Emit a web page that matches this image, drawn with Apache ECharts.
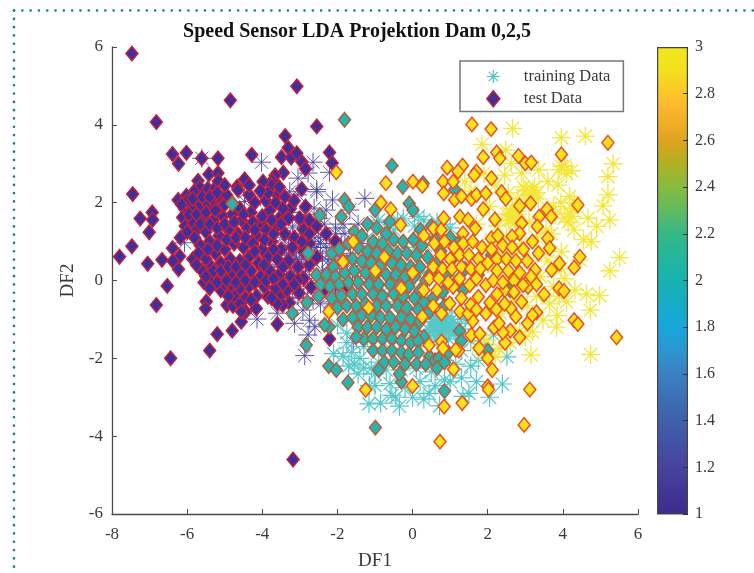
<!DOCTYPE html>
<html><head><meta charset="utf-8">
<style>html,body{margin:0;padding:0;background:#fff}#c{width:754px;height:573px}</style>
<script src="https://cdn.jsdelivr.net/npm/echarts@6/dist/echarts.min.js"></script>
</head><body><div id="c"></div>
<script>
const titleText = "Speed Sensor LDA Projektion Dam 0,2,5";
const xTicks = {min:-8,max:6,interval:2};
const yTicks = {min:-6,max:6,interval:2};
const barValue = 3;
const trainBlue = [[-5.61,3.14],[-4.02,3.04],[-2.65,3.04],[-2.21,2.78],[-2.78,2.76],[-3.05,2.63],[-2.55,2.28],[-4.47,2.26],[-4.05,2.15],[-4.47,2.03],[-2.13,2.07],[-1.27,2.11],[-1.67,1.81],[-2.3,1.81],[-2.62,1.86],[-6.07,0.97],[-3.05,2.2],[-3.27,2.28],[-2.55,2.34],[-1.45,1.45],[-1.8,1.2],[-2.05,1.35],[-2.35,1.45],[-2.6,1.3],[-2.9,1.2],[-3.2,1.35],[-3.45,1.1],[-3.7,0.9],[-3.95,0.6],[-4.1,0.3],[-4.25,0.05],[-3.85,0.2],[-3.6,0.4],[-3.35,0.65],[-3.1,0.85],[-2.85,0.6],[-2.6,0.85],[-2.4,0.55],[-2.15,0.75],[-1.9,0.95],[-1.65,0.7],[-1.95,0.4],[-2.25,0.2],[-2.5,0.05],[-2.75,0.3],[-3.0,0.1],[-3.25,0.3],[-3.5,0.05],[-3.75,-0.15],[-4.0,-0.25],[-3.3,-0.2],[-3.05,-0.35],[-2.8,-0.15],[-2.55,-0.3],[-2.3,-0.1],[-2.05,-0.25],[-1.75,0.15],[-1.5,-0.1],[-1.25,0.25],[-1.1,0.65],[-1.35,0.95],[-3.15,0.55],[-3.4,0.8],[-2.95,0.45],[-2.7,0.7],[-2.45,0.95],[-2.2,1.05],[-3.05,1.55],[-2.85,1.7],[-3.25,1.75],[-4.14,-0.99],[-3.6,-0.84],[-2.92,-0.76],[-2.74,-1.02],[-3.14,-1.1],[-2.6,-1.19],[-2.78,-1.4],[-2.87,-1.93],[-1.58,-1.59],[-0.9,0.9],[-0.95,1.5],[-3.3,0.9],[-3.2,0.7],[-3.1,0.55],[-3.0,0.8],[-2.9,0.95],[-3.15,0.35],[-3.0,0.25],[-2.85,0.15],[-2.65,0.5],[-2.55,0.7],[-2.4,0.25],[-2.25,0.5],[-2.1,0.55],[-1.95,0.65],[-1.75,0.45],[-1.6,0.25],[-1.4,0.45],[-1.15,0.1],[-2.7,1.0],[-2.5,1.1],[-2.3,0.85],[-2.05,1.2],[-1.85,1.45],[-2.5,1.6],[-2.75,1.45],[-3.35,0.15],[-3.5,0.35],[-3.65,0.7],[-3.8,0.5],[-3.55,-0.3],[-3.2,-0.45],[-2.9,-0.45],[-2.65,-0.5],[-2.45,-0.6],[-2.2,-0.55],[-1.95,-0.3],[-4.3,0.65],[-4.05,0.85],[-3.25,1.05],[-3.0,1.4]];
const trainTeal = [[2.51,-1.96],[2.39,-2.66],[2.05,-3.0],[1.34,-2.98],[0.44,-2.9],[-0.35,-3.23],[0.72,-3.22],[0.0,-3.0],[1.5,-2.9],[-0.55,-2.95],[-0.85,-3.15],[-1.16,-3.17],[-1.0,-2.7],[-0.6,-2.65],[-0.2,-2.75],[0.2,-2.6],[0.6,-2.7],[1.0,-2.6],[1.3,-2.5],[1.7,-2.6],[1.55,-2.2],[1.75,-2.05],[1.9,-1.65],[2.15,-1.4],[-2.1,-1.88],[-1.85,-1.95],[-1.62,-1.85],[-1.4,-2.0],[-1.55,-2.15],[-1.75,-1.6],[-1.3,-1.7],[-1.1,-2.25],[-0.9,-2.1],[-1.2,-1.45],[-1.75,-1.35],[-2.0,-1.15],[-0.7,-2.3],[-0.3,-2.3],[0.1,-2.25],[0.5,-2.35],[0.45,-1.3],[0.5,-1.15],[0.55,-1.05],[0.6,-1.3],[0.65,-1.2],[0.7,-1.05],[0.72,-1.3],[0.78,-1.15],[0.8,-1.4],[0.85,-1.05],[0.9,-1.25],[0.95,-1.1],[1.0,-1.3],[1.05,-1.0],[1.1,-1.2],[1.15,-1.35],[0.62,-0.95],[0.75,-0.9],[0.9,-0.92],[1.2,-1.1],[1.3,-1.25],[0.35,-1.4],[0.4,-1.55],[0.65,-1.5],[0.95,-1.5],[1.4,-1.0],[1.5,-0.7],[-0.9,1.55],[-0.75,1.25],[-0.5,1.3],[-0.25,1.6],[0.05,1.4],[0.3,1.55],[0.55,1.2],[0.85,1.45],[0.35,0.9],[-1.2,1.1],[-1.0,0.85],[-0.6,0.9],[-0.3,0.7],[0.05,0.85],[-1.3,0.5],[-0.1,0.3],[0.3,0.2],[0.7,0.3],[1.1,0.1],[-0.8,-0.3],[-0.4,-0.55],[0.05,-0.4],[0.4,-0.6],[0.9,-0.6],[-1.1,-0.9],[-0.7,-1.15],[-0.2,-1.4],[0.15,-1.7],[-0.6,-1.75],[-1.15,-2.7],[1.3,-1.8],[1.55,-1.55],[0.85,-2.05],[1.15,-2.15],[0.55,-1.25],[0.7,-1.15],[0.85,-1.2],[0.75,-1.35],[1.0,-1.15],[0.6,-1.0],[0.9,-1.0],[1.1,-1.3],[-0.4,1.55],[0.15,1.65],[0.65,1.5],[1.0,1.35],[-1.45,-2.4],[-1.0,-2.4],[-0.45,-3.0],[0.3,-3.05],[-1.7,-2.2],[-1.3,-2.25],[0.85,-2.55]];
const trainYellow = [[2.66,3.91],[3.96,3.67],[4.6,3.71],[5.34,3.0],[5.2,2.67],[5.2,2.2],[5.07,1.92],[5.25,1.56],[4.9,1.39],[4.67,1.6],[4.18,2.16],[4.18,1.73],[4.14,1.5],[4.25,1.85],[3.96,2.93],[4.23,2.82],[3.6,2.54],[3.87,2.45],[3.36,2.84],[2.48,3.35],[1.85,3.5],[2.63,3.01],[2.45,2.71],[2.9,2.76],[1.39,2.54],[3.2,2.33],[3.0,2.33],[2.65,1.73],[2.72,1.64],[2.55,1.56],[2.6,1.68],[2.78,1.78],[4.76,1.0],[5.51,0.59],[5.25,0.25],[4.45,0.53],[3.96,0.74],[3.6,0.5],[4.32,-0.24],[4.05,0.05],[4.63,-0.35],[4.98,-0.39],[4.73,-0.76],[3.47,-1.02],[3.83,-1.2],[3.19,-1.32],[3.15,-1.91],[4.74,-1.9],[3.9,-0.4],[3.65,-0.6],[1.97,-1.53],[3.95,0.3],[3.4,0.1],[3.1,0.5],[2.9,0.95],[3.3,1.1],[3.55,1.3],[3.75,1.9],[3.35,2.1],[3.1,2.0],[2.8,2.1],[2.55,2.25],[2.2,2.45],[1.9,2.75],[1.55,2.3],[2.05,1.9],[2.25,1.4],[2.5,1.1],[2.75,0.7],[2.4,0.65],[2.1,1.05],[1.7,1.45],[3.05,-0.65],[2.7,-0.5],[2.35,-0.85],[3.3,-0.4],[2.85,-1.3],[2.3,-1.75],[1.9,-1.9],[2.15,0.35],[2.55,0.1],[3.75,-0.15],[2.6,1.55],[2.7,1.6],[2.75,1.5],[2.5,1.7],[2.8,1.7],[2.65,1.85],[3.05,2.3],[3.15,2.2],[3.25,2.4],[3.3,2.25],[2.95,2.4],[3.8,1.7],[4.05,1.6],[4.25,1.65],[3.95,2.0],[4.3,2.0],[3.9,2.85],[4.05,2.95],[4.1,2.75],[3.1,1.5],[3.7,1.2],[4.3,1.3],[4.55,1.05],[3.55,0.75],[3.85,-0.9],[4.1,-0.55],[3.0,-1.45],[2.6,-1.6],[2.2,-1.95],[1.75,-1.7]];
const testBlue = [[-7.47,5.83],[-6.82,4.07],[-4.85,4.63],[-3.08,4.99],[-2.55,3.96],[-3.39,3.71],[-3.31,3.41],[-6.39,3.25],[-6.02,3.28],[-6.23,3.0],[-5.61,3.14],[-5.18,3.14],[-4.28,3.23],[-3.49,3.17],[-3.23,3.16],[-3.08,3.27],[-2.95,3.05],[-2.85,2.87],[-2.21,3.29],[-2.14,3.02],[-5.42,2.73],[-5.18,2.76],[-3.44,2.77],[-3.66,2.7],[-3.73,2.56],[-4.47,2.6],[-3.98,2.54],[-4.67,2.41],[-4.65,2.33],[-5.71,2.56],[-5.66,2.39],[-5.82,2.28],[-6.02,2.18],[-6.24,2.07],[-6.07,1.84],[-7.45,2.22],[-5.45,2.36],[-5.25,2.38],[-5.17,2.55],[-5.16,2.07],[-5.34,1.97],[-5.52,1.95],[-5.7,1.88],[-5.9,1.88],[-6.12,1.62],[-6.93,1.75],[-6.92,1.56],[-7.25,1.59],[-7.01,1.24],[-7.47,0.88],[-7.8,0.61],[-7.05,0.43],[-6.67,0.53],[-6.39,0.83],[-6.2,0.62],[-6.38,0.5],[-6.23,0.29],[-6.53,-0.14],[-6.82,-0.63],[-5.49,-0.54],[-5.51,-0.72],[-4.94,-0.63],[-4.78,-0.65],[-4.44,-0.8],[-4.16,-0.72],[-4.56,-1.06],[-5.2,-1.38],[-4.8,-1.29],[-5.4,-1.8],[-6.44,-2.0],[-3.6,-1.12],[-2.21,-1.5],[-3.18,-4.6],[-3.85,-0.42],[-3.54,-0.42],[-3.28,-0.58],[-3.46,-0.63],[-3.02,-0.32],[-2.7,-0.17],[-1.76,-0.11],[-6.05,1.4],[-6.18,1.1],[-5.85,1.5],[-5.6,1.6],[-5.75,1.3],[-5.5,1.25],[-5.3,1.55],[-5.05,1.65],[-4.8,1.7],[-4.55,1.55],[-4.3,1.75],[-4.05,1.5],[-3.8,1.8],[-3.5,1.65],[-3.25,1.85],[-3.6,2.2],[-3.9,2.05],[-4.2,2.0],[-3.4,2.15],[-3.15,2.05],[-2.95,2.35],[-2.85,1.9],[-2.75,1.55],[-3.0,1.6],[-2.55,1.4],[-2.3,1.2],[-2.05,1.0],[-5.65,0.9],[-5.4,1.0],[-5.15,1.15],[-4.9,1.3],[-4.65,1.2],[-4.4,1.35],[-4.15,1.15],[-3.9,1.3],[-3.65,1.35],[-3.4,1.2],[-3.15,1.1],[-2.9,1.3],[-5.5,0.55],[-5.25,0.7],[-5.0,0.8],[-4.75,0.95],[-4.5,0.85],[-4.25,0.95],[-4.0,0.8],[-3.75,1.0],[-3.5,0.8],[-3.2,0.85],[-2.75,0.95],[-5.6,0.25],[-5.35,0.35],[-5.1,0.45],[-4.85,0.55],[-4.6,0.5],[-4.35,0.6],[-4.1,0.45],[-3.85,0.6],[-3.6,0.55],[-3.3,0.5],[-3.05,0.35],[-2.55,0.6],[-5.3,0.0],[-5.05,0.1],[-4.8,0.2],[-4.55,0.15],[-4.3,0.25],[-4.05,0.1],[-3.8,0.25],[-3.55,0.15],[-3.25,0.1],[-2.9,0.05],[-5.55,-0.05],[-5.1,-0.25],[-4.85,-0.15],[-4.6,-0.2],[-4.35,-0.15],[-3.95,-0.15],[-3.65,-0.2],[-3.35,-0.25],[-3.05,0.0],[-5.1,1.9],[-4.85,2.05],[-4.6,1.85],[-4.35,2.2],[-3.75,2.45],[-3.55,2.4],[-4.15,-0.4],[-4.45,-0.45],[-4.75,-0.4],[-5.0,-0.1],[-2.75,0.4],[-2.4,-0.3],[-6.0,2.05],[-5.85,2.1],[-5.6,2.15],[-5.4,2.15],[-5.2,2.25],[-6.15,1.95],[-5.95,1.7],[-5.75,1.7],[-5.5,1.75],[-5.25,1.8],[-5.0,1.95],[-6.0,1.25],[-5.8,1.1],[-5.65,1.45],[-5.4,1.45],[-5.2,1.35],[-5.0,1.45],[-4.75,1.5],[-4.5,1.7],[-4.25,1.5],[-4.0,1.65],[-3.75,1.55],[-3.5,1.45],[-3.3,1.6],[-5.85,0.55],[-5.7,0.7],[-5.45,0.8],[-5.2,0.9],[-4.95,1.05],[-4.7,1.1],[-4.45,1.1],[-4.2,1.3],[-3.95,1.05],[-3.7,1.2],[-5.75,0.4],[-5.5,0.1],[-5.3,0.25],[-5.1,0.25],[-4.9,0.35],[-4.7,0.35],[-4.45,0.4],[-4.2,0.75],[-3.95,0.4],[-3.7,0.8],[-3.45,0.35],[-5.4,-0.2],[-5.2,-0.05],[-4.95,0.0],[-4.7,-0.05],[-4.45,0.0],[-4.2,-0.05],[-3.9,0.0],[-3.7,0.05],[-3.45,-0.1],[-3.15,-0.1],[-4.6,-0.6],[-4.3,-0.5],[-3.6,-0.6],[-3.75,-0.45],[-4.9,-0.4],[-4.55,-0.8],[-2.9,0.75],[-2.95,1.0],[-2.75,1.2],[-3.45,1.85],[-3.65,2.0],[-3.85,2.25],[-4.05,2.3],[-4.35,2.45],[-4.95,2.2],[-5.0,2.45]];
const testTeal = [[-1.81,4.13],[-0.55,2.95],[-0.26,2.41],[0.28,2.5],[-0.09,1.98],[0.01,1.81],[1.12,2.34],[0.21,1.3],[-0.61,1.51],[-4.8,1.97],[-1.81,2.07],[-1.9,1.64],[-2.47,1.68],[-1.0,1.81],[-2.78,0.7],[-2.56,0.14],[-3.2,-0.84],[-2.81,-0.57],[-2.22,-1.19],[-2.34,-1.14],[-2.83,-1.66],[-2.23,-2.2],[-2.03,-2.3],[-1.72,-2.62],[-0.99,-3.78],[-0.3,-2.6],[0.85,-2.84],[2.0,-1.8],[2.6,-0.25],[-1.7,1.9],[-1.2,1.45],[-0.95,1.35],[-0.7,1.2],[-1.55,1.25],[-1.35,1.15],[-1.05,1.0],[-0.8,0.95],[-0.5,1.05],[-0.25,1.0],[0.02,1.05],[0.25,0.9],[-2.15,0.7],[-1.95,0.8],[-1.7,0.95],[-1.45,0.85],[-1.2,0.75],[-0.95,0.7],[-0.65,0.75],[-0.4,0.7],[-0.15,0.7],[0.1,0.65],[0.4,0.6],[-2.1,0.35],[-1.85,0.5],[-1.6,0.55],[-1.35,0.5],[-1.1,0.45],[-0.85,0.4],[-0.55,0.45],[-0.3,0.4],[-0.05,0.35],[0.2,0.35],[0.5,0.2],[-2.3,0.15],[-2.05,0.1],[-1.8,0.2],[-1.55,0.25],[-1.25,0.2],[-1.0,0.15],[-0.7,0.15],[-0.45,0.15],[-0.2,0.1],[0.05,0.1],[0.35,0.0],[-2.45,-0.1],[-2.2,-0.15],[-1.95,-0.1],[-1.7,-0.05],[-1.45,-0.05],[-1.15,-0.1],[-0.9,-0.1],[-0.6,-0.1],[-0.35,-0.15],[-0.1,-0.15],[0.2,-0.25],[-2.5,-0.4],[-2.15,-0.45],[-1.9,-0.4],[-1.6,-0.35],[-1.35,-0.35],[-1.05,-0.35],[-0.8,-0.4],[-0.5,-0.35],[-0.25,-0.4],[0.05,-0.45],[0.3,-0.55],[-2.0,-0.7],[-1.75,-0.65],[-1.5,-0.65],[-1.25,-0.6],[-0.95,-0.65],[-0.7,-0.65],[-0.4,-0.65],[-0.15,-0.7],[0.15,-0.75],[0.45,-0.8],[-1.85,-1.0],[-1.6,-0.95],[-1.35,-0.9],[-1.1,-0.9],[-0.85,-0.95],[-0.6,-0.95],[-0.3,-0.95],[-0.05,-1.0],[0.2,-1.05],[-1.45,-1.2],[-1.2,-1.2],[-0.95,-1.2],[-0.7,-1.25],[-0.45,-1.2],[-0.2,-1.25],[0.05,-1.3],[0.3,-1.45],[-1.3,-1.5],[-1.05,-1.5],[-0.8,-1.5],[-0.55,-1.5],[-0.3,-1.55],[-0.05,-1.6],[0.15,-1.55],[-1.05,-1.8],[-0.8,-1.8],[-0.55,-1.8],[-0.3,-1.85],[-0.1,-1.9],[0.15,-1.85],[0.45,-1.95],[-0.75,-2.1],[-0.5,-2.1],[-0.2,-2.15],[0.1,-2.15],[0.35,-2.15],[0.6,-2.05],[-0.9,-2.3],[-0.35,-2.4],[0.7,-2.0],[0.65,-2.25],[0.85,-2.1],[0.95,-1.85],[1.25,-1.3],[1.3,-1.55],[0.55,-0.45],[0.8,-0.3],[0.65,0.45],[0.9,0.15],[1.0,1.1],[1.4,0.3],[1.35,-0.25],[0.6,1.05],[-1.5,-1.45],[0.5,1.4],[0.75,0.75],[1.1,0.6],[0.85,-0.65],[1.2,0.95],[1.75,0.15],[2.1,0.65]];
const testYellow = [[1.58,4.01],[2.09,3.89],[5.2,3.54],[3.96,3.24],[1.88,3.17],[2.24,3.29],[2.32,3.14],[2.82,3.2],[3.0,3.01],[3.16,3.03],[0.92,2.9],[1.33,2.95],[1.21,2.8],[1.7,2.8],[1.64,2.71],[-0.71,2.5],[0.01,2.54],[0.26,2.43],[0.81,2.54],[1.08,2.54],[0.83,2.24],[1.12,2.07],[1.3,2.16],[1.57,2.1],[1.7,2.2],[1.95,2.24],[2.1,2.63],[2.37,2.27],[2.48,2.1],[3.14,1.98],[2.85,1.92],[4.4,1.94],[3.58,1.83],[3.69,1.64],[3.37,1.64],[2.19,1.57],[1.88,1.83],[1.26,1.64],[1.48,1.56],[0.83,1.6],[-0.84,2.0],[-0.58,1.83],[-0.32,1.43],[0.56,1.34],[0.76,1.3],[1.67,1.34],[1.34,1.21],[3.32,1.39],[2.9,1.47],[2.85,1.21],[2.65,1.13],[3.6,1.08],[3.65,0.83],[3.19,1.0],[2.1,1.08],[2.27,1.15],[4.45,0.61],[3.91,0.44],[4.3,0.33],[3.7,0.27],[3.26,0.27],[3.03,-0.07],[3.9,-0.2],[3.5,-0.36],[4.03,-0.27],[4.3,-1.02],[4.4,-1.12],[5.43,-1.46],[3.3,-0.82],[3.06,-1.1],[3.19,-0.89],[2.85,-1.46],[2.6,-1.29],[2.46,-1.6],[2.4,-1.33],[2.17,-1.21],[1.77,-1.74],[2.0,-2.0],[2.12,-2.3],[2.0,-2.72],[2.02,-2.8],[3.12,-2.8],[1.09,-2.28],[1.32,-3.15],[0.84,-3.24],[0.0,-2.71],[2.97,-3.71],[0.73,-4.14],[1.23,-1.8],[1.15,-1.78],[1.56,-1.4],[1.6,-1.04],[0.44,-1.66],[0.77,-1.57],[0.81,-1.74],[0.26,-0.93],[0.99,-0.59],[0.77,-0.85],[1.26,-0.8],[1.48,-0.85],[1.79,-1.37],[1.95,-0.85],[2.06,-0.57],[2.23,-0.74],[2.45,-0.25],[2.62,-0.72],[2.75,-0.93],[2.3,-1.1],[3.07,-0.16],[2.94,-0.12],[1.55,-0.63],[1.75,-0.42],[1.08,-0.16],[1.52,-0.12],[1.95,-0.12],[-1.25,-2.81],[-2.23,-0.8],[-1.17,-0.7],[-1.58,1.0],[-0.99,0.25],[-2.03,2.78],[-1.85,0.48],[0.58,0.95],[0.85,1.0],[1.1,0.85],[1.35,0.95],[1.6,1.0],[1.85,0.85],[2.1,0.8],[2.4,0.9],[2.65,0.85],[2.95,0.8],[3.35,0.7],[0.75,0.65],[1.0,0.55],[1.25,0.65],[1.5,0.65],[1.75,0.55],[2.0,0.45],[2.25,0.55],[2.5,0.55],[2.75,0.5],[3.05,0.5],[0.55,0.35],[0.8,0.3],[1.05,0.3],[1.3,0.35],[1.55,0.3],[1.8,0.3],[2.25,0.25],[2.55,0.25],[2.85,0.2],[3.15,0.1],[0.45,0.05],[0.7,0.05],[0.95,-0.05],[1.25,0.05],[1.7,0.05],[2.15,0.0],[2.4,-0.05],[2.7,0.0],[0.65,-0.25],[1.3,-0.45],[2.25,-0.35],[2.7,-0.3],[3.3,-0.1],[0.3,-0.25],[0.0,0.2],[-0.3,-0.2],[-0.75,0.6],[0.3,1.15],[0.55,-0.65],[2.45,-0.6],[2.9,-0.55],[1.7,-0.75]];

const asterisk = 'path://M10 0L10 20M0 10L20 10M3 3L17 17M3 17L17 3';
const parula = [[0,'#f2e61e'],[0.05,'#f4e01e'],[0.125,'#fdb92f'],[0.2,'#dfa31f'],[0.25,'#b0b024'],[0.3,'#86bb3e'],[0.35,'#5fbb60'],[0.4,'#34b888'],[0.5,'#15b3b0'],[0.6,'#18a6dc'],[0.65,'#2d95d0'],[0.7,'#3b80c0'],[0.8,'#3f60a8'],[0.9,'#47439c'],[1,'#3f2a8e']];
const textCol = '#3a3a3a', axisCol = '#4a4a4a', serif = '"Liberation Serif","Times New Roman",serif';

function train(d,c,w){return {name:'training Data',type:'scatter',data:d,symbol:asterisk,symbolSize:19,silent:true,
  itemStyle:{color:'rgba(0,0,0,0)',borderColor:c,borderWidth:w,opacity:1},xAxisIndex:0,yAxisIndex:0};}
function test(d,f,e){return {name:'test Data',type:'scatter',data:d,symbol:'diamond',symbolSize:[12,14.5],silent:true,
  itemStyle:{color:f,borderColor:e,borderWidth:1.5,opacity:1},xAxisIndex:0,yAxisIndex:0};}

const chart = echarts.init(document.getElementById('c'),null,{renderer:'canvas'});
chart.setOption({
  animation:false, backgroundColor:'#fff',
  title:{text:titleText,left:357,top:22,textAlign:'center',padding:0,textStyle:{fontFamily:serif,fontSize:20,fontWeight:'bold',color:'#111'}},
  legend:{left:460,top:61,orient:'vertical',padding:[7,13,4,26],itemGap:5,itemWidth:13,itemHeight:16,
    backgroundColor:'#fff',borderColor:'#777',borderWidth:1.5,selectedMode:false,
    textStyle:{fontFamily:serif,fontSize:16.5,color:textCol,padding:[0,0,0,19]},
    data:[{name:'training Data',icon:asterisk,itemStyle:{color:'rgba(0,0,0,0)',borderColor:'#4cc3c3',borderWidth:1.2}},
          {name:'test Data',icon:'diamond',itemStyle:{color:'#3f2f9c',borderColor:'#c4213a',borderWidth:1.6}}]},
  grid:[{left:112,right:116,top:47,bottom:59,outerBoundsMode:'none'},{left:657,right:66,top:47,bottom:59,outerBoundsMode:'none'}],
  xAxis:[
   {type:'value',gridIndex:0,min:xTicks.min,max:xTicks.max,interval:xTicks.interval,splitLine:{show:false},name:'DF1',nameLocation:'middle',nameGap:38,z:5,
    nameTextStyle:{fontFamily:serif,fontSize:19,color:textCol},
    axisLine:{onZero:false,lineStyle:{color:axisCol,width:1.3}},axisTick:{inside:true,length:5,lineStyle:{color:axisCol}},
    axisLabel:{fontFamily:serif,fontSize:17,color:textCol,margin:12,hideOverlap:false,showMinLabel:true,showMaxLabel:true}},
   {type:'category',gridIndex:1,data:['colorbar'],axisLine:{show:false},axisTick:{show:false},axisLabel:{show:false}}],
  yAxis:[
   {type:'value',gridIndex:0,min:yTicks.min,max:yTicks.max,interval:yTicks.interval,splitLine:{show:false},name:'DF2',nameLocation:'middle',nameGap:29,z:5,
    nameTextStyle:{fontFamily:serif,fontSize:19,color:textCol},
    axisLine:{onZero:false,lineStyle:{color:axisCol,width:1.3}},axisTick:{inside:true,length:5,lineStyle:{color:axisCol}},
    axisLabel:{fontFamily:serif,fontSize:17,color:textCol,margin:9,showMinLabel:true,showMaxLabel:true}},
   {type:'value',gridIndex:1,position:'right',min:1,max:3,interval:0.2,splitLine:{show:false},z:5,
    axisLine:{show:false},axisTick:{show:true,inside:true,length:5,lineStyle:{color:'#333'}},
    axisLabel:{fontFamily:serif,fontSize:16,color:textCol,margin:7,showMinLabel:true,showMaxLabel:true,formatter:v=>String(+v.toFixed(1))}}],
  series:[
    train(trainBlue,'#4a45a5',0.9),train(trainTeal,'#55c8c8',1.2),train(trainYellow,'#f2e73a',1.3),
    test(testBlue,'#3f2f9c','#c4213a'),test(testTeal,'#27b5b0','#b0603e'),test(testYellow,'#fbe21c','#e8501f'),
    {type:'bar',xAxisIndex:1,yAxisIndex:1,data:[barValue],barWidth:'100%',silent:true,
     itemStyle:{color:new echarts.graphic.LinearGradient(0,0,0,1,parula.map(s=>({offset:s[0],color:s[1]}))),borderColor:'#444',borderWidth:1.2}}
  ],
  graphic:[
    {type:'line',shape:{x1:14,y1:10.5,x2:754,y2:10.5},style:{stroke:'#16808f',lineWidth:2.6,lineCap:'round',lineDash:[0.1,8.2]},silent:true},
    {type:'line',shape:{x1:14,y1:10.5,x2:14,y2:573},style:{stroke:'#16808f',lineWidth:2.6,lineCap:'round',lineDash:[0.1,8.2]},silent:true}
  ]
});
</script></body></html>
